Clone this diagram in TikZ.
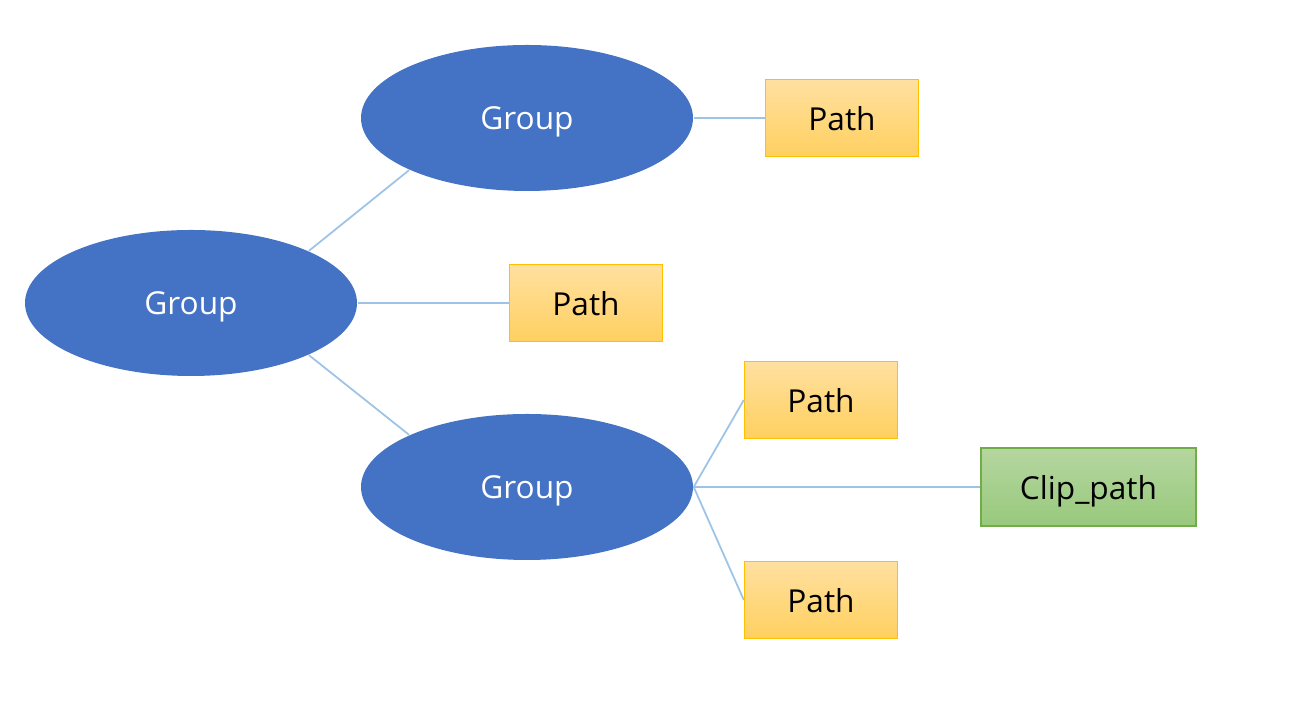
\documentclass[tikz,border=0pt]{standalone}
\usepackage{fontspec}
\setmainfont{Open Sans}
\usetikzlibrary{shapes.geometric}
\definecolor{groupblue}{HTML}{4472C4}
\definecolor{linkblue}{HTML}{9DC3E6}
\definecolor{pathtop}{HTML}{FFE0A0}
\definecolor{pathbot}{HTML}{FFD060}
\definecolor{pathline}{HTML}{FFC000}
\definecolor{cliptop}{HTML}{B5D6A0}
\definecolor{clipbot}{HTML}{98C97C}
\definecolor{clipline}{HTML}{70AD47}

\begin{document}
\begin{tikzpicture}
  [group/.style={ellipse,fill=groupblue,text=white,inner sep=0pt,text depth=0pt,
minimum width=3.32cm,minimum height=1.46cm,font=\fontsize{9}{10}\selectfont},
   pathbox/.style={rectangle,draw=pathline,top color=pathtop,bottom color=pathbot,
inner sep=0pt,text depth=0pt,minimum width=1.53cm,minimum height=0.77cm,font=\fontsize{9}{10}\selectfont},
   clipbox/.style={rectangle,draw=clipline,top color=cliptop,bottom color=clipbot,
inner sep=0pt,text depth=0pt,minimum width=2.15cm,minimum height=0.78cm,font=\fontsize{9}{10}\selectfont},
   link/.style={draw=linkblue,line width=0.5pt}]
  \useasboundingbox (0,0) rectangle (13.04,7.22);
  \node[group] (root) at (1.91,4.19) {Group};
  \node[group] (upper) at (5.27,6.04) {Group};
  \node[group] (lower) at (5.27,2.35) {Group};
  \node[pathbox] (pathA) at (8.42,6.04) {Path};
  \node[pathbox] (pathB) at (5.86,4.19) {Path};
  \node[pathbox] (pathC) at (8.21,3.22) {Path};
  \node[clipbox] (clip) at (10.885,2.35) {Clip\_path};
  \node[pathbox] (pathD) at (8.21,1.22) {Path};

  \draw[link] (root.north east) -- (upper.south west);
  \draw[link] (root.east) -- (pathB.west);
  \draw[link] (root.south east) -- (lower.north west);
  \draw[link] (upper.east) -- (pathA.west);
  \draw[link] (lower.east) -- (pathC.west);
  \draw[link] (lower.east) -- (clip.west);
  \draw[link] (lower.east) -- (pathD.west);
\end{tikzpicture}
\end{document}
